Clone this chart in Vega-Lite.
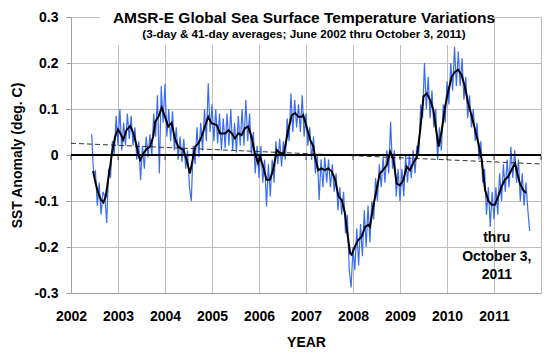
{
  "$schema": "https://vega.github.io/schema/vega-lite/v6.json",
  "width": 470,
  "height": 276,
  "autosize": "none",
  "padding": {"left": 71, "top": 17, "right": 19, "bottom": 64},
  "background": "white",
  "config": {"view": {"stroke": null}, "font": "Liberation Sans"},
  "title": {
    "text": "AMSR-E Global Sea Surface Temperature Variations",
    "subtitle": "(3-day & 41-day averages; June 2002 thru October 3, 2011)",
    "font": "Liberation Sans", "fontSize": 15.5, "fontWeight": "bold", "color": "black",
    "subtitleFont": "Liberation Sans", "subtitleFontSize": 11.7, "subtitleFontWeight": "bold", "subtitleColor": "black",
    "subtitlePadding": 3, "offset": -31, "dx": -2
  },
  "datasets": {
    "sst3": [
      {"year":2002.44,"anomaly":0.045},{"year":2002.48,"anomaly":-0.04},{"year":2002.52,"anomaly":-0.035},{"year":2002.56,"anomaly":-0.11},
      {"year":2002.60,"anomaly":-0.06},{"year":2002.64,"anomaly":-0.13},{"year":2002.68,"anomaly":-0.08},{"year":2002.72,"anomaly":-0.09},
      {"year":2002.76,"anomaly":-0.148},{"year":2002.80,"anomaly":-0.03},{"year":2002.84,"anomaly":-0.05},{"year":2002.88,"anomaly":0.03},
      {"year":2002.92,"anomaly":0.0},{"year":2002.96,"anomaly":0.085},{"year":2003.00,"anomaly":0.02},{"year":2003.04,"anomaly":0.1},
      {"year":2003.08,"anomaly":0.01},{"year":2003.12,"anomaly":0.07},{"year":2003.16,"anomaly":0.02},{"year":2003.20,"anomaly":0.09},
      {"year":2003.24,"anomaly":0.035},{"year":2003.28,"anomaly":0.085},{"year":2003.32,"anomaly":0.02},{"year":2003.36,"anomaly":0.06},
      {"year":2003.40,"anomaly":-0.01},{"year":2003.44,"anomaly":0.03},{"year":2003.48,"anomaly":-0.055},{"year":2003.52,"anomaly":0.02},
      {"year":2003.56,"anomaly":-0.03},{"year":2003.60,"anomaly":0.04},{"year":2003.64,"anomaly":-0.005},{"year":2003.68,"anomaly":0.045},
      {"year":2003.72,"anomaly":0.0},{"year":2003.76,"anomaly":0.09},{"year":2003.80,"anomaly":0.04},{"year":2003.84,"anomaly":0.13},
      {"year":2003.88,"anomaly":-0.04},{"year":2003.92,"anomaly":0.15},{"year":2003.96,"anomaly":0.07},{"year":2004.00,"anomaly":0.155},
      {"year":2004.04,"anomaly":0.04},{"year":2004.08,"anomaly":0.1},{"year":2004.12,"anomaly":0.03},{"year":2004.16,"anomaly":0.095},
      {"year":2004.20,"anomaly":0.01},{"year":2004.24,"anomaly":0.06},{"year":2004.28,"anomaly":-0.01},{"year":2004.32,"anomaly":0.04},
      {"year":2004.36,"anomaly":-0.015},{"year":2004.40,"anomaly":0.035},{"year":2004.44,"anomaly":-0.03},{"year":2004.48,"anomaly":0.01},
      {"year":2004.52,"anomaly":-0.07},{"year":2004.56,"anomaly":-0.1},{"year":2004.60,"anomaly":0.02},{"year":2004.64,"anomaly":-0.02},
      {"year":2004.68,"anomaly":0.06},{"year":2004.72,"anomaly":-0.005},{"year":2004.76,"anomaly":0.07},{"year":2004.80,"anomaly":0.01},
      {"year":2004.84,"anomaly":0.1},{"year":2004.88,"anomaly":0.03},{"year":2004.92,"anomaly":0.156},{"year":2004.96,"anomaly":0.05},
      {"year":2005.00,"anomaly":0.11},{"year":2005.04,"anomaly":0.03},{"year":2005.08,"anomaly":0.1},{"year":2005.12,"anomaly":0.025},
      {"year":2005.16,"anomaly":0.09},{"year":2005.20,"anomaly":0.01},{"year":2005.24,"anomaly":0.08},{"year":2005.28,"anomaly":0.015},
      {"year":2005.32,"anomaly":0.09},{"year":2005.36,"anomaly":0.02},{"year":2005.40,"anomaly":0.1},{"year":2005.44,"anomaly":0.01},
      {"year":2005.48,"anomaly":0.07},{"year":2005.52,"anomaly":0.005},{"year":2005.56,"anomaly":0.085},{"year":2005.60,"anomaly":0.02},
      {"year":2005.64,"anomaly":0.1},{"year":2005.68,"anomaly":0.02},{"year":2005.72,"anomaly":0.12},{"year":2005.76,"anomaly":0.03},
      {"year":2005.80,"anomaly":0.09},{"year":2005.84,"anomaly":0.0},{"year":2005.88,"anomaly":0.05},{"year":2005.92,"anomaly":-0.04},
      {"year":2005.96,"anomaly":0.02},{"year":2006.00,"anomaly":-0.05},{"year":2006.04,"anomaly":0.02},{"year":2006.08,"anomaly":-0.06},
      {"year":2006.12,"anomaly":-0.01},{"year":2006.16,"anomaly":-0.112},{"year":2006.20,"anomaly":-0.02},{"year":2006.24,"anomaly":-0.09},
      {"year":2006.28,"anomaly":-0.01},{"year":2006.32,"anomaly":-0.06},{"year":2006.36,"anomaly":0.03},{"year":2006.40,"anomaly":-0.02},
      {"year":2006.44,"anomaly":0.035},{"year":2006.48,"anomaly":-0.025},{"year":2006.52,"anomaly":0.03},{"year":2006.56,"anomaly":-0.01},
      {"year":2006.60,"anomaly":0.08},{"year":2006.64,"anomaly":0.03},{"year":2006.68,"anomaly":0.134},{"year":2006.72,"anomaly":0.05},
      {"year":2006.76,"anomaly":0.12},{"year":2006.80,"anomaly":0.06},{"year":2006.84,"anomaly":0.11},{"year":2006.88,"anomaly":0.05},
      {"year":2006.92,"anomaly":0.13},{"year":2006.96,"anomaly":0.04},{"year":2007.00,"anomaly":0.09},{"year":2007.04,"anomaly":0.02},
      {"year":2007.08,"anomaly":0.06},{"year":2007.12,"anomaly":-0.01},{"year":2007.16,"anomaly":0.04},{"year":2007.20,"anomaly":-0.04},
      {"year":2007.24,"anomaly":0.0},{"year":2007.28,"anomaly":-0.098},{"year":2007.32,"anomaly":-0.01},{"year":2007.36,"anomaly":-0.07},
      {"year":2007.40,"anomaly":-0.005},{"year":2007.44,"anomaly":-0.06},{"year":2007.48,"anomaly":-0.01},{"year":2007.52,"anomaly":-0.07},
      {"year":2007.56,"anomaly":-0.02},{"year":2007.60,"anomaly":-0.08},{"year":2007.64,"anomaly":-0.04},{"year":2007.68,"anomaly":-0.12},
      {"year":2007.72,"anomaly":-0.07},{"year":2007.76,"anomaly":-0.13},{"year":2007.80,"anomaly":-0.08},{"year":2007.84,"anomaly":-0.17},
      {"year":2007.88,"anomaly":-0.13},{"year":2007.92,"anomaly":-0.25},{"year":2007.96,"anomaly":-0.288},{"year":2008.00,"anomaly":-0.2},
      {"year":2008.04,"anomaly":-0.25},{"year":2008.08,"anomaly":-0.16},{"year":2008.12,"anomaly":-0.24},{"year":2008.16,"anomaly":-0.15},
      {"year":2008.20,"anomaly":-0.22},{"year":2008.24,"anomaly":-0.12},{"year":2008.28,"anomaly":-0.2},{"year":2008.32,"anomaly":-0.11},
      {"year":2008.36,"anomaly":-0.19},{"year":2008.40,"anomaly":-0.1},{"year":2008.44,"anomaly":-0.14},{"year":2008.48,"anomaly":-0.05},
      {"year":2008.52,"anomaly":-0.1},{"year":2008.56,"anomaly":-0.02},{"year":2008.60,"anomaly":-0.07},{"year":2008.64,"anomaly":-0.005},
      {"year":2008.68,"anomaly":-0.06},{"year":2008.72,"anomaly":0.01},{"year":2008.76,"anomaly":-0.04},{"year":2008.80,"anomaly":0.072},
      {"year":2008.84,"anomaly":-0.03},{"year":2008.88,"anomaly":0.01},{"year":2008.92,"anomaly":-0.09},{"year":2008.96,"anomaly":-0.03},
      {"year":2009.00,"anomaly":-0.1},{"year":2009.04,"anomaly":-0.03},{"year":2009.08,"anomaly":-0.09},{"year":2009.12,"anomaly":0.0},
      {"year":2009.16,"anomaly":-0.06},{"year":2009.20,"anomaly":0.0},{"year":2009.24,"anomaly":-0.05},{"year":2009.28,"anomaly":0.01},
      {"year":2009.32,"anomaly":-0.04},{"year":2009.36,"anomaly":0.02},{"year":2009.40,"anomaly":0.0},{"year":2009.44,"anomaly":0.11},
      {"year":2009.48,"anomaly":0.08},{"year":2009.52,"anomaly":0.2},{"year":2009.56,"anomaly":0.1},{"year":2009.60,"anomaly":0.17},
      {"year":2009.64,"anomaly":0.08},{"year":2009.68,"anomaly":0.14},{"year":2009.72,"anomaly":0.06},{"year":2009.76,"anomaly":0.1},
      {"year":2009.80,"anomaly":-0.011},{"year":2009.84,"anomaly":0.06},{"year":2009.88,"anomaly":0.01},{"year":2009.92,"anomaly":0.11},
      {"year":2009.96,"anomaly":0.07},{"year":2010.00,"anomaly":0.16},{"year":2010.04,"anomaly":0.11},{"year":2010.08,"anomaly":0.2},
      {"year":2010.12,"anomaly":0.14},{"year":2010.16,"anomaly":0.235},{"year":2010.20,"anomaly":0.15},{"year":2010.24,"anomaly":0.225},
      {"year":2010.28,"anomaly":0.15},{"year":2010.32,"anomaly":0.21},{"year":2010.36,"anomaly":0.12},{"year":2010.40,"anomaly":0.17},
      {"year":2010.44,"anomaly":0.08},{"year":2010.48,"anomaly":0.13},{"year":2010.52,"anomaly":0.06},{"year":2010.56,"anomaly":0.1},
      {"year":2010.60,"anomaly":0.03},{"year":2010.64,"anomaly":0.07},{"year":2010.68,"anomaly":-0.01},{"year":2010.72,"anomaly":0.03},
      {"year":2010.76,"anomaly":-0.06},{"year":2010.80,"anomaly":-0.03},{"year":2010.84,"anomaly":-0.13},{"year":2010.88,"anomaly":-0.07},
      {"year":2010.92,"anomaly":-0.156},{"year":2010.96,"anomaly":-0.08},{"year":2011.00,"anomaly":-0.14},{"year":2011.04,"anomaly":-0.07},
      {"year":2011.08,"anomaly":-0.13},{"year":2011.12,"anomaly":-0.04},{"year":2011.16,"anomaly":-0.1},{"year":2011.20,"anomaly":-0.02},
      {"year":2011.24,"anomaly":-0.08},{"year":2011.28,"anomaly":-0.01},{"year":2011.32,"anomaly":-0.07},{"year":2011.36,"anomaly":0.018},
      {"year":2011.40,"anomaly":-0.05},{"year":2011.44,"anomaly":0.01},{"year":2011.48,"anomaly":-0.06},{"year":2011.52,"anomaly":-0.01},
      {"year":2011.56,"anomaly":-0.1},{"year":2011.60,"anomaly":-0.04},{"year":2011.64,"anomaly":-0.11},{"year":2011.68,"anomaly":-0.06},
      {"year":2011.72,"anomaly":-0.12},{"year":2011.76,"anomaly":-0.165}
    ],
    "sst41": [
      {"year":2002.47,"anomaly":-0.035},{"year":2002.52,"anomaly":-0.06},{"year":2002.58,"anomaly":-0.083},{"year":2002.64,"anomaly":-0.098},
      {"year":2002.69,"anomaly":-0.103},{"year":2002.74,"anomaly":-0.09},{"year":2002.79,"anomaly":-0.054},{"year":2002.84,"anomaly":-0.02},
      {"year":2002.87,"anomaly":0.004},{"year":2002.94,"anomaly":0.04},{"year":2003.00,"anomaly":0.056},{"year":2003.06,"anomaly":0.045},
      {"year":2003.11,"anomaly":0.033},{"year":2003.18,"anomaly":0.054},{"year":2003.26,"anomaly":0.063},{"year":2003.33,"anomaly":0.047},
      {"year":2003.40,"anomaly":0.018},{"year":2003.43,"anomaly":0.002},{"year":2003.47,"anomaly":-0.011},{"year":2003.54,"anomaly":0.004},
      {"year":2003.61,"anomaly":0.013},{"year":2003.68,"anomaly":0.018},{"year":2003.75,"anomaly":0.04},{"year":2003.79,"anomaly":0.072},
      {"year":2003.86,"anomaly":0.083},{"year":2003.93,"anomaly":0.103},{"year":2004.00,"anomaly":0.083},{"year":2004.07,"anomaly":0.062},
      {"year":2004.14,"anomaly":0.07},{"year":2004.21,"anomaly":0.036},{"year":2004.28,"anomaly":0.018},{"year":2004.39,"anomaly":0.011},
      {"year":2004.46,"anomaly":-0.011},{"year":2004.53,"anomaly":-0.04},{"year":2004.60,"anomaly":-0.004},{"year":2004.64,"anomaly":0.018},
      {"year":2004.71,"anomaly":0.025},{"year":2004.78,"anomaly":0.04},{"year":2004.85,"anomaly":0.062},{"year":2004.92,"anomaly":0.083},
      {"year":2004.99,"anomaly":0.069},{"year":2005.10,"anomaly":0.065},{"year":2005.17,"anomaly":0.047},{"year":2005.28,"anomaly":0.047},
      {"year":2005.35,"anomaly":0.054},{"year":2005.42,"anomaly":0.047},{"year":2005.49,"anomaly":0.036},{"year":2005.56,"anomaly":0.047},
      {"year":2005.63,"anomaly":0.043},{"year":2005.70,"anomaly":0.058},{"year":2005.77,"anomaly":0.062},{"year":2005.84,"anomaly":0.04},
      {"year":2005.91,"anomaly":0.004},{"year":2005.98,"anomaly":-0.018},{"year":2006.02,"anomaly":-0.004},{"year":2006.09,"anomaly":-0.025},
      {"year":2006.16,"anomaly":-0.054},{"year":2006.23,"anomaly":-0.054},{"year":2006.30,"anomaly":-0.033},{"year":2006.38,"anomaly":0.011},
      {"year":2006.45,"anomaly":0.004},{"year":2006.52,"anomaly":0.0},{"year":2006.56,"anomaly":0.02},{"year":2006.62,"anomaly":0.054},
      {"year":2006.70,"anomaly":0.087},{"year":2006.77,"anomaly":0.091},{"year":2006.84,"anomaly":0.083},{"year":2006.91,"anomaly":0.083},
      {"year":2006.94,"anomaly":0.087},{"year":2007.01,"anomaly":0.062},{"year":2007.09,"anomaly":0.033},{"year":2007.16,"anomaly":0.018},
      {"year":2007.19,"anomaly":-0.004},{"year":2007.26,"anomaly":-0.033},{"year":2007.33,"anomaly":-0.029},{"year":2007.40,"anomaly":-0.033},
      {"year":2007.47,"anomaly":-0.029},{"year":2007.55,"anomaly":-0.036},{"year":2007.62,"anomaly":-0.054},{"year":2007.69,"anomaly":-0.09},
      {"year":2007.76,"anomaly":-0.098},{"year":2007.83,"anomaly":-0.127},{"year":2007.87,"anomaly":-0.163},{"year":2007.94,"anomaly":-0.214},
      {"year":2007.97,"anomaly":-0.217},{"year":2008.04,"anomaly":-0.199},{"year":2008.11,"anomaly":-0.185},{"year":2008.18,"anomaly":-0.178},
      {"year":2008.26,"anomaly":-0.156},{"year":2008.33,"anomaly":-0.152},{"year":2008.36,"anomaly":-0.156},{"year":2008.43,"anomaly":-0.112},
      {"year":2008.50,"anomaly":-0.076},{"year":2008.57,"anomaly":-0.04},{"year":2008.64,"anomaly":-0.033},{"year":2008.72,"anomaly":-0.022},
      {"year":2008.79,"anomaly":0.007},{"year":2008.86,"anomaly":-0.01},{"year":2008.93,"anomaly":-0.062},{"year":2009.00,"anomaly":-0.066},
      {"year":2009.07,"anomaly":-0.055},{"year":2009.14,"anomaly":-0.025},{"year":2009.21,"anomaly":-0.033},{"year":2009.28,"anomaly":-0.018},
      {"year":2009.36,"anomaly":-0.004},{"year":2009.43,"anomaly":0.054},{"year":2009.50,"anomaly":0.127},{"year":2009.57,"anomaly":0.134},
      {"year":2009.64,"anomaly":0.12},{"year":2009.71,"anomaly":0.098},{"year":2009.78,"anomaly":0.047},{"year":2009.82,"anomaly":0.018},
      {"year":2009.89,"anomaly":0.054},{"year":2009.96,"anomaly":0.105},{"year":2010.03,"anomaly":0.141},{"year":2010.10,"anomaly":0.17},
      {"year":2010.17,"anomaly":0.181},{"year":2010.24,"anomaly":0.185},{"year":2010.31,"anomaly":0.174},{"year":2010.38,"anomaly":0.149},
      {"year":2010.45,"anomaly":0.112},{"year":2010.53,"anomaly":0.083},{"year":2010.60,"anomaly":0.054},{"year":2010.67,"anomaly":0.025},
      {"year":2010.74,"anomaly":-0.011},{"year":2010.81,"anomaly":-0.076},{"year":2010.88,"anomaly":-0.1},{"year":2010.95,"anomaly":-0.108},
      {"year":2011.02,"anomaly":-0.108},{"year":2011.09,"anomaly":-0.09},{"year":2011.16,"anomaly":-0.069},{"year":2011.23,"anomaly":-0.054},
      {"year":2011.30,"anomaly":-0.047},{"year":2011.37,"anomaly":-0.033},{"year":2011.45,"anomaly":-0.018},{"year":2011.48,"anomaly":-0.033},
      {"year":2011.55,"anomaly":-0.062},{"year":2011.62,"anomaly":-0.076},{"year":2011.68,"anomaly":-0.083}
    ],
    "trend": [{"year":2002,"anomaly":0.0255},{"year":2012,"anomaly":-0.0195}],
    "ticks": [{"year":2002},{"year":2003},{"year":2004},{"year":2005},{"year":2006},{"year":2007},{"year":2008},{"year":2009},{"year":2010},{"year":2011},{"year":2012}]
  },
  "layer": [
    {
      "data": {"name": "sst3"},
      "mark": {"type": "line", "color": "#3a6df5", "strokeWidth": 1.2},
      "encoding": {
        "x": {"field": "year", "type": "quantitative",
          "scale": {"domain": [2002, 2012], "nice": false, "zero": false},
          "axis": {"values": [2002,2003,2004,2005,2006,2007,2008,2009,2010,2011,2012],
            "labelExpr": "datum.value >= 2012 ? '' : toString(datum.value)",
            "grid": true, "gridColor": "#bdbdbd", "gridWidth": 1,
            "ticks": false, "domainColor": "#a0a0a0", "domainWidth": 1,
            "labelFont": "Liberation Sans", "labelFontSize": 14, "labelFontWeight": "bold", "labelColor": "black",
            "labelPadding": 16, "labelFlush": false, "labelOverlap": false,
            "title": "YEAR", "titleFont": "Liberation Sans", "titleFontSize": 14, "titleFontWeight": "bold", "titleColor": "black", "titlePadding": 12}},
        "y": {"field": "anomaly", "type": "quantitative",
          "scale": {"domain": [-0.3, 0.3], "nice": false, "zero": false},
          "axis": {"values": [-0.3,-0.2,-0.1,0,0.1,0.2,0.3],
            "labelExpr": "datum.value == 0 ? '0' : toString(round(datum.value*10)/10)",
            "grid": true, "gridColor": "#bdbdbd", "gridWidth": 1,
            "ticks": true, "tickSize": 5, "tickColor": "#a0a0a0", "domainColor": "#a0a0a0",
            "labelFont": "Liberation Sans", "labelFontSize": 14, "labelFontWeight": "bold", "labelColor": "black",
            "labelPadding": 8, "labelOverlap": false,
            "title": "SST Anomaly (deg. C)", "titleFont": "Liberation Sans", "titleFontSize": 14, "titleFontWeight": "bold", "titleColor": "black", "titlePadding": 9}}
      }
    },
    {
      "data": {"name": "trend"},
      "mark": {"type": "line", "color": "#333333", "strokeWidth": 1, "strokeDash": [5, 3]},
      "encoding": {"x": {"field": "year", "type": "quantitative"}, "y": {"field": "anomaly", "type": "quantitative"}}
    },
    {
      "data": {"name": "ticks"},
      "mark": {"type": "rule", "color": "black", "strokeWidth": 2},
      "encoding": {"y": {"datum": 0}}
    },
    {
      "data": {"name": "ticks"},
      "mark": {"type": "tick", "color": "black", "orient": "vertical", "size": 4, "thickness": 1, "yOffset": 3},
      "encoding": {"x": {"field": "year", "type": "quantitative"}, "y": {"datum": 0}}
    },
    {
      "data": {"name": "sst41"},
      "mark": {"type": "line", "color": "black", "strokeWidth": 2},
      "encoding": {"x": {"field": "year", "type": "quantitative"}, "y": {"field": "anomaly", "type": "quantitative"}}
    },
    {
      "data": {"values": [{}]},
      "mark": {"type": "rect", "color": "white", "opacity": 1},
      "encoding": {"x": {"datum": 2002.62}, "x2": {"datum": 2010.96}, "y": {"datum": 0.31}, "y2": {"datum": 0.239}}
    },
    {
      "data": {"values": [{}]},
      "mark": {"type": "text", "font": "Liberation Sans", "fontSize": 14, "fontWeight": "bold", "color": "black", "align": "center", "baseline": "alphabetic", "lineHeight": 18.5},
      "encoding": {"x": {"datum": 2011.06}, "y": {"datum": -0.19}, "text": {"value": ["thru", "October 3,", "2011"]}}
    }
  ]
}
